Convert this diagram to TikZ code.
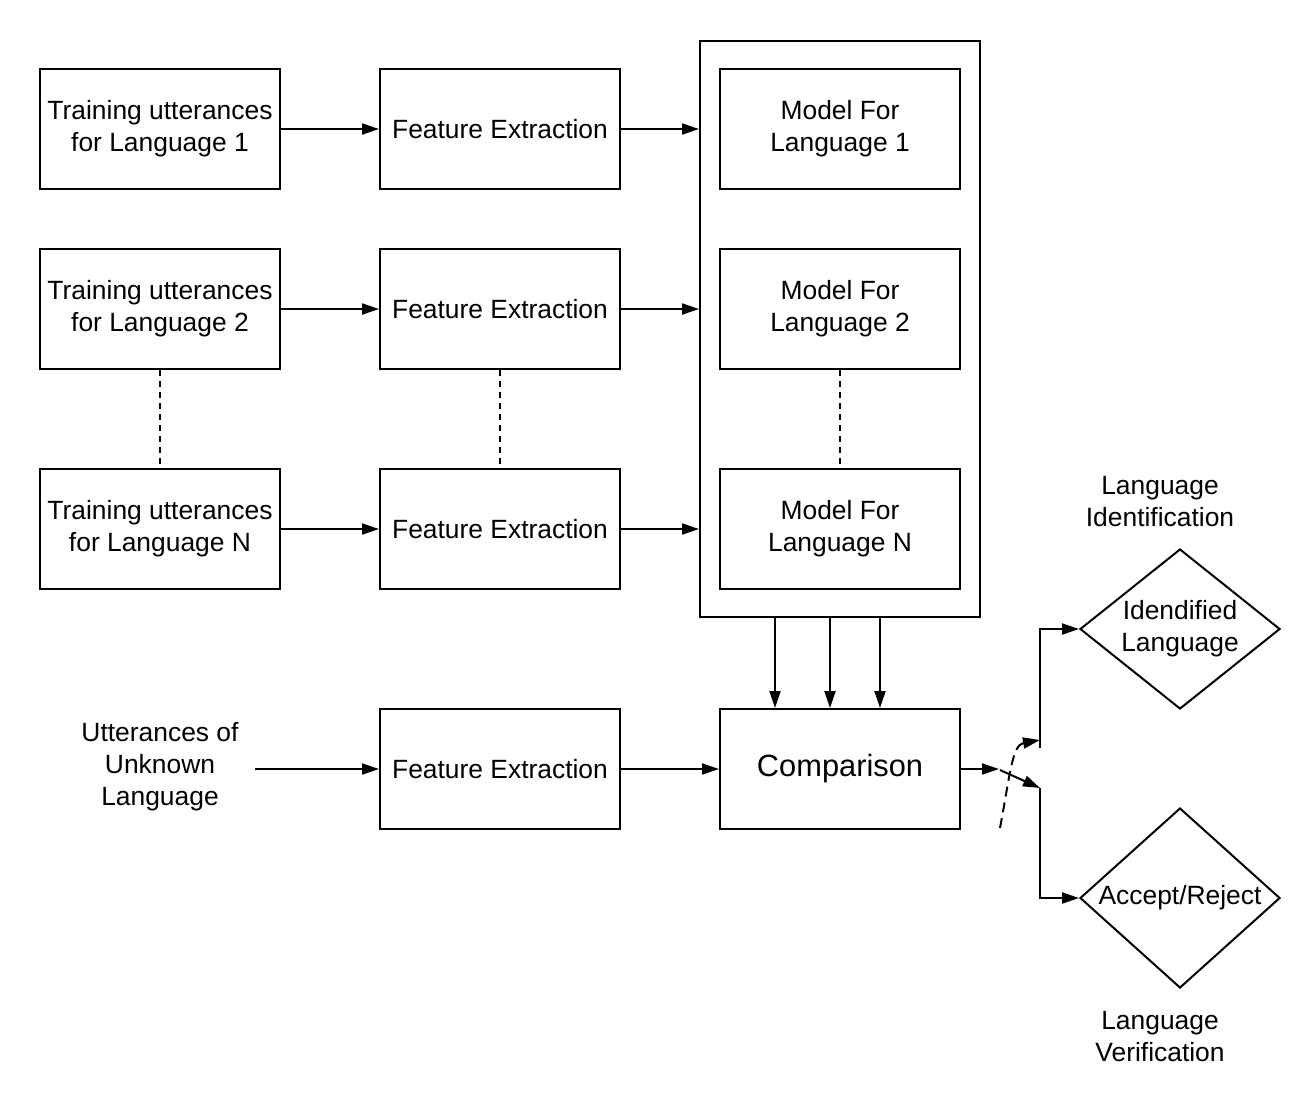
\documentclass[tikz,border=0pt]{standalone}
\usepackage{fontspec}
\setmainfont{Liberation Sans}
\usetikzlibrary{arrows.meta,shapes.geometric}
\begin{document}
\begin{tikzpicture}[x=1pt,y=-1pt,
  txt/.style={font=\fontsize{26.4}{32}\selectfont, align=center},
  box/.style={txt, draw, line width=2pt, minimum width=240pt, minimum height=120pt, inner sep=0pt},
  dia/.style={draw, line width=2pt, diamond, minimum width=200pt, minimum height=160pt, inner sep=0pt},
  arr/.style={line width=2pt, -{Triangle[length=17pt,width=11pt]}},
  dline/.style={line width=1.5pt, dash pattern=on 6pt off 5pt}]
\useasboundingbox (0,0) rectangle (1289,1109);
% container
\node[draw, line width=2pt, minimum width=280pt, minimum height=576pt, inner sep=0pt] (cont) at (840,329) {};
% training
\node[box] (tr1) at (160,129) {Training utterances\\for Language 1};
\node[box] (tr2) at (160,309) {Training utterances\\for Language 2};
\node[box] (tr3) at (160,529) {Training utterances\\for Language N};
% features
\node[box] (fe1) at (500,129) {Feature Extraction};
\node[box] (fe2) at (500,309) {Feature Extraction};
\node[box] (fe3) at (500,529) {Feature Extraction};
\node[box] (fe4) at (500,769) {Feature Extraction};
% models
\node[box] (mo1) at (840,129) {Model For\\Language 1};
\node[box] (mo2) at (840,309) {Model For\\Language 2};
\node[box] (mo3) at (840,529) {Model For\\Language N};
% comparison
\node[box, font=\fontsize{30.8}{36}\selectfont] (cmp) at (840,769) {Comparison};
% unknown
\node[txt, inner sep=16pt] (unk) at (160,767) {Utterances of\\Unknown\\Language};
% diamonds
\node[dia, label={[txt]center:Idendified\\Language}] (idl) at (1180,629) {};
\node[dia, minimum height=180pt, label={[txt]center:Accept/Reject}] (acc) at (1180,898) {};
\node[txt] (lid) at (1160,502) {Language\\Identification};
\node[txt] (lve) at (1160,1037) {Language\\Verification};
% arrows
\foreach \i in {1,2,3}{
  \draw[arr] (tr\i.east) -- (fe\i.west);
  \draw[arr] (fe\i.east) -- (fe\i.east -| cont.west);
}
\draw[arr] (unk.east |- fe4.west) -- (fe4.west);
\draw[arr] (fe4.east) -- (cmp.west);
\draw[arr] ([xshift=-65pt]cont.south) -- ([xshift=-65pt]cmp.north);
\draw[arr] ([xshift=-10pt]cont.south) -- ([xshift=-10pt]cmp.north);
\draw[arr] ([xshift=40pt]cont.south) -- ([xshift=40pt]cmp.north);
% dashed continuations
\draw[dline] (tr2.south) -- (tr3.north);
\draw[dline] (fe2.south) -- (fe3.north);
\draw[dline] (mo2.south) -- (mo3.north);
% switch
\coordinate (swin) at (999,769);
\coordinate (sws) at (1000,770);
\coordinate (swlo) at (1040,788);
\coordinate (swup) at (1040,748);
\coordinate (dst) at (1000,828);
\coordinate (den) at (1040,740);
\draw[arr] (cmp.east) -- (swin);
\draw[arr] (sws) -- (swlo);
\draw[arr] (swlo) |- (acc.west);
\draw[arr] (swup) |- (idl.west);
\draw[line width=2pt, dash pattern=on 10pt off 6pt, -{Triangle[length=17pt,width=11pt]}] (dst) .. controls (1010,775) and (1012,745) .. (den);
\end{tikzpicture}
\end{document}
